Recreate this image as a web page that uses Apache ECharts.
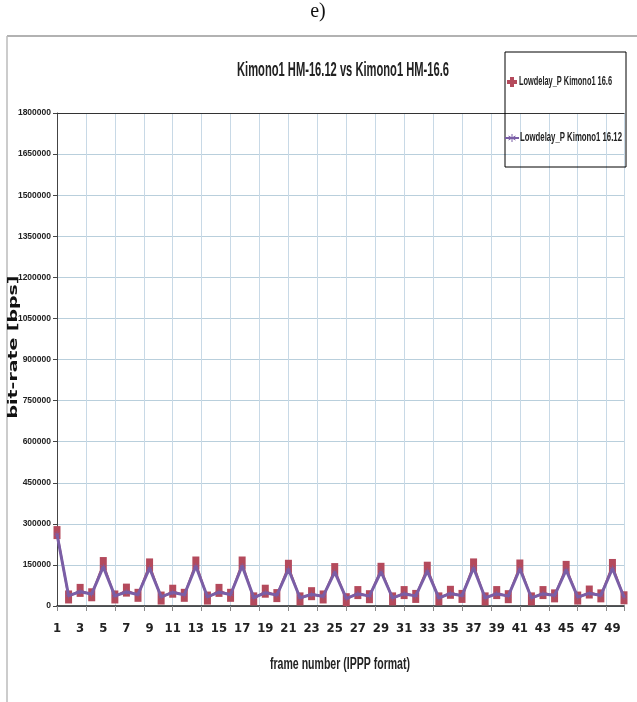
<!DOCTYPE html>
<html>
<head>
<meta charset="utf-8">
<script src="https://cdn.jsdelivr.net/npm/echarts@6/dist/echarts.min.js"></script>
<style>
html,body{margin:0;padding:0;background:#fff;}
#chart{width:637px;height:702px;}
</style>
</head>
<body>
<div id="chart"></div>
<script>
const frames = Array.from({length: 50}, (_, i) => String(i + 1));
const hm166 = [268000, 33000, 57000, 41000, 155000, 33000, 58000, 39000, 150000, 29000,
               54000, 39000, 157000, 29000, 57000, 39000, 157000, 26000, 54000, 38000,
               145000, 26000, 45000, 33000, 133000, 23000, 49000, 34000, 134000, 26000,
               49000, 35000, 138000, 26000, 50000, 35000, 150000, 26000, 49000, 34000,
               146000, 26000, 49000, 37000, 141000, 29000, 51000, 37000, 148000, 30000];
const hm1612 = [262000, 38000, 52000, 44000, 143000, 37000, 51000, 42000, 138000, 34000,
                49000, 41000, 145000, 34000, 50000, 42000, 146000, 31000, 48000, 40000,
                134000, 30000, 42000, 36000, 124000, 28000, 44000, 37000, 125000, 30000,
                44000, 37000, 127000, 30000, 45000, 38000, 139000, 30000, 44000, 37000,
                135000, 30000, 44000, 39000, 131000, 33000, 46000, 39000, 137000, 33000];
const seriesNames = ['Lowdelay_P Kimono1 16.6', 'Lowdelay_P Kimono1 16.12'];
const titleText = 'Kimono1 HM-16.12 vs Kimono1 HM-16.6';
const yName = 'bit-rate [bps]';
const xName = 'frame number (IPPP format)';

const RED = '#b44a5c', PURPLE = '#7a5ea6';
const narrow = "'DejaVu Sans Condensed', sans-serif";
const mctx = document.createElement('canvas').getContext('2d');
function fitScale(text, font, target) {
  mctx.font = font;
  return target / mctx.measureText(text).width;
}
const titleFont = "bold 21px 'Liberation Sans', sans-serif";
const xNameFont = "bold 16px 'Liberation Sans', sans-serif";
const legFont = "bold 12px 'Liberation Sans', sans-serif";
const yNameFont = "bold 12px 'DejaVu Sans', sans-serif";
const asterisk = 'path://M5,0h1v4.2l3.6-2.1 0.5,0.9-3.6,2.1 3.6,2.1-0.5,0.9-3.6-2.1v4.2h-1v-4.2l-3.6,2.1-0.5-0.9 3.6-2.1-3.6-2.1 0.5-0.9 3.6,2.1z';

const chart = echarts.init(document.getElementById('chart'), null, {renderer: 'canvas'});
chart.setOption({
  backgroundColor: '#fff',
  animation: false,
  legend: {show: false, data: seriesNames},
  grid: {left: 57, right: 13, top: 113, bottom: 96, containLabel: false, outerBoundsMode: 'none'},
  xAxis: [
    {
      type: 'category', data: frames, boundaryGap: false, position: 'bottom',
      axisLine: {show: true, lineStyle: {color: '#222', width: 1.5}},
      axisTick: {show: false},
      splitLine: {show: false},
      axisLabel: {interval: 1, margin: 16, fontFamily: narrow, fontSize: 13, fontWeight: 'bold', color: '#222'}
    },
    {
      type: 'value', min: 0, max: 49, interval: 2.5, position: 'bottom',
      axisLine: {show: false},
      axisTick: {show: true, length: 5, lineStyle: {color: '#888'}},
      axisLabel: {show: false},
      splitLine: {show: true, lineStyle: {color: '#c8d9e6', width: 1}}
    },
    {
      type: 'value', min: 0, max: 49, position: 'top',
      axisLine: {show: true, onZero: false, lineStyle: {color: '#333', width: 1.2}},
      axisTick: {show: false}, axisLabel: {show: false}, splitLine: {show: false}
    }
  ],
  yAxis: {
    type: 'value', min: 0, max: 1800000, interval: 150000,
    axisLine: {show: true, lineStyle: {color: '#444', width: 1}},
    axisTick: {show: true, length: 4, lineStyle: {color: '#444'}},
    axisLabel: {margin: 6, fontFamily: "'Liberation Sans', sans-serif", fontSize: 8.5, fontWeight: 'bold', color: '#222',
                formatter: v => String(v)},
    splitLine: {show: true, lineStyle: {color: '#b9cfdc', width: 1}}
  },
  series: [
    {
      name: seriesNames[0], type: 'line', data: hm166, xAxisIndex: 0,
      symbol: 'rect', symbolSize: [7, 13], showAllSymbol: true, z: 2,
      lineStyle: {color: RED, width: 2},
      itemStyle: {color: RED}
    },
    {
      name: seriesNames[1], type: 'line', data: hm1612, xAxisIndex: 0,
      symbol: asterisk, symbolSize: 6, showAllSymbol: true, z: 3,
      lineStyle: {color: PURPLE, width: 3},
      itemStyle: {color: PURPLE}
    }
  ],
  graphic: [
    {type: 'text', x: 318, y: 12, style: {text: 'e)', font: "20px 'Liberation Serif', serif", fill: '#111', align: 'center', verticalAlign: 'middle'}},
    {type: 'line', shape: {x1: 7, y1: 36, x2: 637, y2: 36}, style: {stroke: '#999', lineWidth: 1.5}},
    {type: 'line', shape: {x1: 7, y1: 36, x2: 7, y2: 702}, style: {stroke: '#bbb', lineWidth: 1.5}},
    {type: 'text', x: 343, y: 70, scaleX: fitScale(titleText, titleFont, 212),
     style: {text: titleText, font: titleFont, fill: '#222', align: 'center', verticalAlign: 'middle'}},
    {type: 'text', x: 340, y: 665, scaleX: fitScale(xName, xNameFont, 140),
     style: {text: xName, font: xNameFont, fill: '#222', align: 'center', verticalAlign: 'middle'}},
    {type: 'text', x: 14, y: 347, rotation: Math.PI / 2, scaleX: fitScale(yName, yNameFont, 143),
     style: {text: yName, font: yNameFont, fill: '#111', align: 'center', verticalAlign: 'middle'}},
    // legend box (transparent, like the original)
    {type: 'rect', shape: {x: 505, y: 52, width: 121, height: 115}, style: {fill: 'none', stroke: '#000', lineWidth: 1}, z: 10},
    {type: 'polygon', shape: {points: [[510,77],[514,77],[514,80],[517,80],[517,84],[514,84],[514,87],[510,87],[510,84],[507,84],[507,80],[510,80]]},
     style: {fill: RED}, z: 10},
    {type: 'text', x: 519, y: 82, scaleX: fitScale(seriesNames[0], legFont, 93), z: 10,
     style: {text: seriesNames[0], font: legFont, fill: '#222', verticalAlign: 'middle'}},
    {type: 'line', shape: {x1: 505, y1: 138, x2: 519, y2: 138}, style: {stroke: PURPLE, lineWidth: 2}, z: 10},
    {type: 'line', shape: {x1: 512, y1: 134, x2: 512, y2: 142}, style: {stroke: PURPLE, lineWidth: 1}, z: 10},
    {type: 'line', shape: {x1: 508.5, y1: 136, x2: 515.5, y2: 140}, style: {stroke: PURPLE, lineWidth: 1}, z: 10},
    {type: 'line', shape: {x1: 508.5, y1: 140, x2: 515.5, y2: 136}, style: {stroke: PURPLE, lineWidth: 1}, z: 10},
    {type: 'text', x: 520, y: 138, scaleX: fitScale(seriesNames[1], legFont, 102), z: 10,
     style: {text: seriesNames[1], font: legFont, fill: '#222', verticalAlign: 'middle'}}
  ]
});
</script>
</body>
</html>
